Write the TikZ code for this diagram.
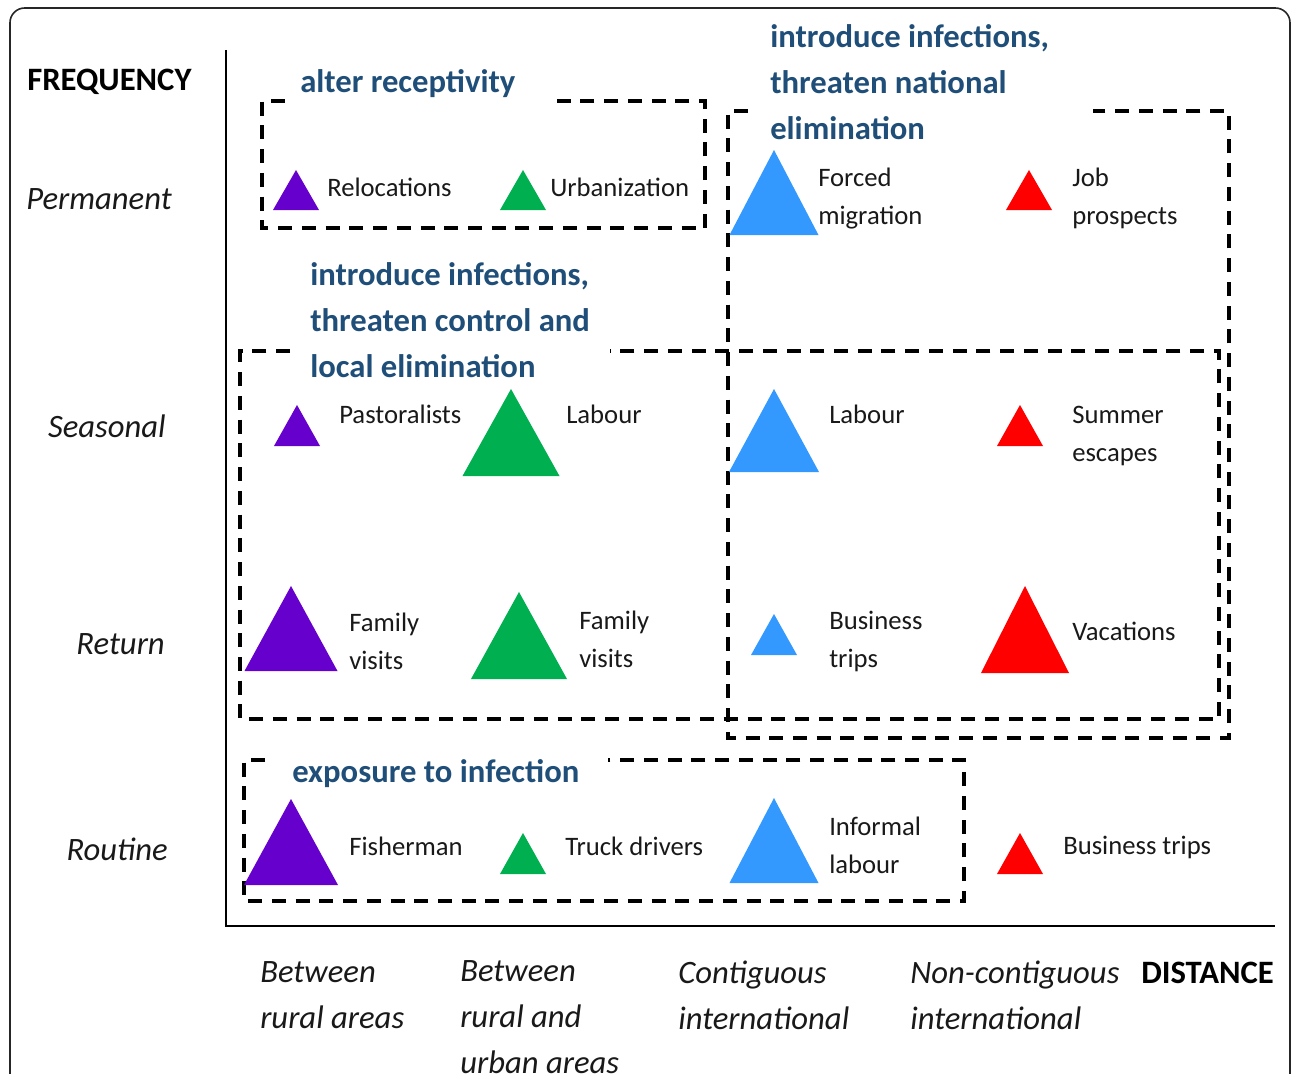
\documentclass[tikz,border=0pt]{standalone}
\usepackage{fontspec}
\setmainfont{Carlito}
\definecolor{titleblue}{RGB}{31,78,121}
\definecolor{tpurple}{RGB}{102,0,204}
\definecolor{tgreen}{RGB}{0,176,80}
\definecolor{tblue}{RGB}{51,153,255}
\definecolor{tred}{RGB}{255,0,0}
\newcommand\mtri[5]{\fill[#1] (#2,#3) ++({-#4/2},0) -- ++(#4,0) -- ++({-#4/2},{-#5}) -- cycle;}
\begin{document}
\begin{tikzpicture}[x=0.75pt,y=-0.75pt,
  lab/.style={anchor=west,inner sep=0pt,align=left,font=\fontsize{20}{28.5}\selectfont,text=black!90},
  ttl/.style={anchor=west,inner sep=0pt,align=left,font=\fontsize{24.5}{34.5}\selectfont\bfseries,text=titleblue},
  axl/.style={inner sep=0pt,align=left,font=\fontsize{24.5}{34.5}\selectfont\itshape,text=black!90},
  dbox/.style={draw=black,line width=2.5pt,dash pattern=on 10.5pt off 7.3pt}]
\useasboundingbox (0,0) rectangle (1293,1074);
\clip (0,0) rectangle (1293,1074);
% outer frame
\draw[line width=1.2pt,rounded corners=11pt,black!85] (10,8) rectangle (1290,1110);
% axes
\coordinate (ytop) at (226,50);
\coordinate (orig) at (226,926);
\coordinate (xend) at (1275,926);
\draw[line width=1.6pt] (ytop) -- (orig) -- (xend);
% axis labels
\node[anchor=west,inner sep=0pt,font=\fontsize{24.5}{34.5}\selectfont\bfseries] (freq) at (27,82) {FREQUENCY};
\node[axl,anchor=east] (perm) at (172,199) {Permanent};
\node[axl,anchor=east] (seas) at (166,426) {Seasonal};
\node[axl,anchor=east] (ret) at (165,644) {Return};
\node[axl,anchor=east] (rout) at (168,849) {Routine};
\node[axl,anchor=west] (d1) at (260,995) {Between\\rural areas};
\node[axl,anchor=west] (d2) at (460,1017) {Between\\rural and\\urban areas};
\node[axl,anchor=west] (d3) at (678,995) {Contiguous\\international};
\node[axl,anchor=west] (d4) at (910,995) {Non-contiguous\\international};
\node[anchor=west,inner sep=0pt,font=\fontsize{24.5}{34.5}\selectfont\bfseries] (dist) at (1141,973) {DISTANCE};
% dashed boxes
\draw[dbox] (285,101) -- (262,101) -- (262,228) -- (705,228) -- (705,101) -- (555,101);
\draw[dbox] (748,111) -- (728,111) -- (728,738) -- (1229,738) -- (1229,111) -- (1093,111);
\draw[dbox] (290,351) -- (240,351) -- (240,719) -- (1219,719) -- (1219,351) -- (610,351);
\draw[dbox] (265,760) -- (244,760) -- (244,901) -- (964,901) -- (964,760) -- (608,760);
% titles
\node[ttl] (t1) at (300,84) {alter receptivity};
\node[ttl] (t2) at (770,82) {introduce infections,\\threaten national\\elimination};
\node[ttl] (t3) at (310,320) {introduce infections,\\threaten control and\\local elimination};
\node[ttl] (t4) at (292,774) {exposure to infection};
% permanent row
\mtri{tpurple}{296}{210}{46}{40}
\mtri{tgreen}{523}{210}{46}{40}
\mtri{tblue}{774}{235}{89}{85}
\mtri{tred}{1029}{210}{46}{40}
\node[lab] (l11) at (327,187) {Relocations};
\node[lab] (l12) at (550,187) {Urbanization};
\node[lab] (l13) at (818,199) {Forced\\migration};
\node[lab] (l14) at (1072,198) {Job\\prospects};
% seasonal row
\mtri{tpurple}{297}{446}{46}{41}
\mtri{tgreen}{511}{476}{97}{87}
\mtri{tblue}{774}{472}{90}{83}
\mtri{tred}{1020}{446}{46}{41}
\node[lab] (l21) at (339,414) {Pastoralists};
\node[lab] (l22) at (566,414) {Labour};
\node[lab] (l23) at (829,414) {Labour};
\node[lab] (l24) at (1072,436) {Summer\\escapes};
% return row
\mtri{tpurple}{291}{671}{93}{85}
\mtri{tgreen}{519}{679}{96}{87}
\mtri{tblue}{774}{655}{46}{41}
\mtri{tred}{1025}{673}{88}{87}
\node[lab] (l31) at (349,641) {Family\\visits};
\node[lab] (l32) at (579,639) {Family\\visits};
\node[lab] (l33) at (829,641) {Business\\trips};
\node[lab] (l34) at (1072,631) {Vacations};
% routine row
\mtri{tpurple}{291}{885}{94}{86}
\mtri{tgreen}{523}{874}{46}{41}
\mtri{tblue}{774}{883}{89}{85}
\mtri{tred}{1020}{874}{46}{41}
\node[lab] (l41) at (349,846) {Fisherman};
\node[lab] (l42) at (565,846) {Truck drivers};
\node[lab] (l43) at (829,845) {Informal\\labour};
\node[lab] (l44) at (1063,847) {Business trips};
\end{tikzpicture}
\end{document}
